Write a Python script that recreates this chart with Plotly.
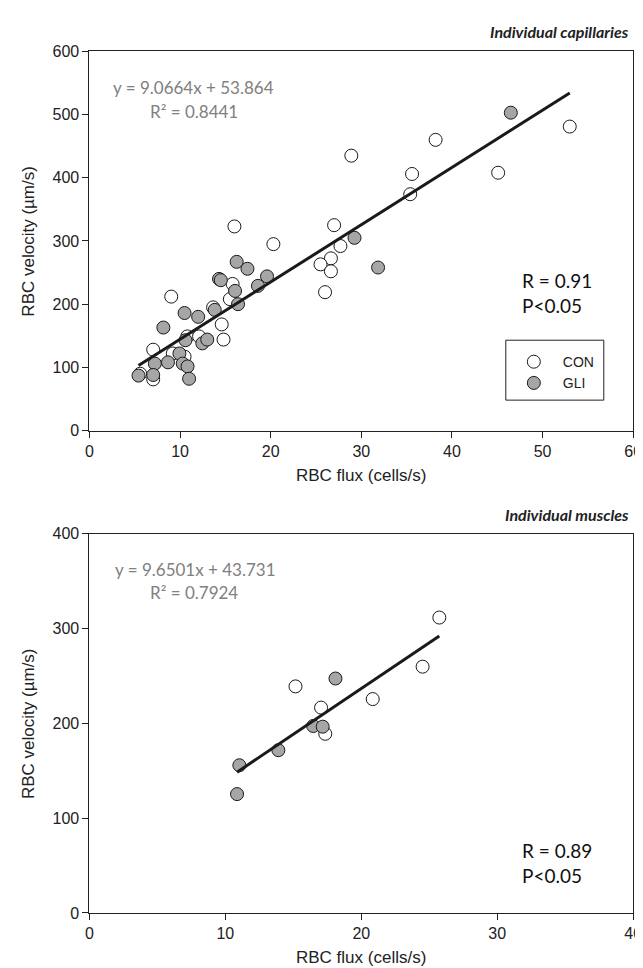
import plotly.graph_objects as go

W, H = 643, 968

# ---------------- data: individual capillaries (top) ----------------
cap_con_x = [53.0, 45.1, 38.2, 35.6, 35.4, 28.9, 27.0, 20.3, 27.7, 26.65, 25.5, 26.65, 26.0,
             16.0, 15.8, 15.5, 13.65, 9.03, 14.6, 14.8, 10.8, 12.1, 7.04, 9.2, 7.04, 5.6, 10.5]
cap_con_y = [481, 408, 460, 406, 374, 435, 325, 295, 292, 272.5, 263, 252, 219,
             323, 232, 208, 195, 212, 168, 144, 149, 149, 128, 122, 81, 90, 117]
cap_gli_x = [46.5, 31.85, 29.25, 19.6, 18.6, 16.25, 17.44, 14.3, 14.5, 16.07, 16.4, 13.83, 10.5,
             12.0, 8.16, 10.6, 12.46, 13.0, 9.93, 8.67, 7.22, 10.3, 10.83, 11.0, 7.04, 5.42]
cap_gli_y = [503, 258, 305, 244, 229, 267, 256, 240, 238, 221, 200, 191, 186,
             180, 163, 143, 138, 144, 122, 108, 106, 106, 101.5, 82, 88, 87]
cap_fit_x = [5.42, 53.0]
cap_fit_y = [103.0, 534.0]

# ---------------- data: individual muscles (bottom) ----------------
mus_con_x = [25.74, 24.51, 15.16, 20.84, 17.04, 17.35]
mus_con_y = [311.6, 259.8, 239.0, 225.6, 216.6, 189.0]
mus_gli_x = [18.1, 16.46, 17.16, 13.9, 11.03, 10.86]
mus_gli_y = [247.3, 197.2, 196.5, 171.7, 155.8, 125.4]
mus_fit_x = [10.86, 25.74]
mus_fit_y = [148.5, 292.1]

# tick values
cap_xticks = [0, 10, 20, 30, 40, 50, 60]
cap_yticks = [0, 100, 200, 300, 400, 500, 600]
mus_xticks = [0, 10, 20, 30, 40]
mus_yticks = [0, 100, 200, 300, 400]

# ---------------- styles ----------------
OPEN = dict(size=13, color='white', line=dict(color='#1a1a1a', width=1))
GREY = dict(size=13, color='#a6a6a6', line=dict(color='#1a1a1a', width=1))
LINE = dict(color='#1a1a1a', width=3)
SANS = 'Liberation Sans, Arial, sans-serif'
CAL = 'Lato, Open Sans, sans-serif'


def fx(px):
    return px / W


def fy(py):
    return 1 - py / H


fig = go.Figure()
fig.add_trace(go.Scatter(x=cap_con_x, y=cap_con_y, mode='markers', marker=OPEN, name='CON',
                         xaxis='x', yaxis='y'))
fig.add_trace(go.Scatter(x=cap_gli_x, y=cap_gli_y, mode='markers', marker=GREY, name='GLI',
                         xaxis='x', yaxis='y'))
fig.add_trace(go.Scatter(x=cap_fit_x, y=cap_fit_y, mode='lines', line=LINE, showlegend=False,
                         xaxis='x', yaxis='y'))
fig.add_trace(go.Scatter(x=mus_con_x, y=mus_con_y, mode='markers', marker=OPEN, showlegend=False,
                         xaxis='x2', yaxis='y2'))
fig.add_trace(go.Scatter(x=mus_gli_x, y=mus_gli_y, mode='markers', marker=GREY, showlegend=False,
                         xaxis='x2', yaxis='y2'))
fig.add_trace(go.Scatter(x=mus_fit_x, y=mus_fit_y, mode='lines', line=LINE, showlegend=False,
                         xaxis='x2', yaxis='y2'))

axis_common = dict(showline=True, linecolor='#222', linewidth=1, mirror=True,
                   ticks='outside', ticklen=6, tickcolor='#222', tickwidth=1,
                   showgrid=False, zeroline=False,
                   tickfont=dict(family=SANS, size=16, color='#222'))

L, R = 79, 634
fig.update_layout(
    width=W, height=H,
    margin=dict(l=0, r=0, t=0, b=0),
    paper_bgcolor='white', plot_bgcolor='white',
    xaxis=dict(domain=[fx(L), fx(R)], range=[0, 60], tickvals=cap_xticks, anchor='y', **axis_common),
    yaxis=dict(domain=[fy(422), fy(36)], range=[0, 600], tickvals=cap_yticks, anchor='x', **axis_common),
    xaxis2=dict(domain=[fx(L), fx(R)], range=[0, 40], tickvals=mus_xticks, anchor='y2', **axis_common),
    yaxis2=dict(domain=[fy(913), fy(527)], range=[0, 400], tickvals=mus_yticks, anchor='x2', **axis_common),
    showlegend=True,
    legend=dict(x=fx(503), y=fy(336), xanchor='left', yanchor='top',
                bgcolor='rgba(0,0,0,0)', borderwidth=0, itemwidth=48,
                font=dict(family=SANS, size=14, color='#222'), tracegroupgap=0),
)

# legend frame
fig.add_shape(type='rect', xref='paper', yref='paper',
              x0=fx(504), x1=fx(604), y0=fy(391), y1=fy(330),
              line=dict(color='#222', width=1))

ann = []


def text(px, py, s, size, color='#222', family=SANS, xanchor='center', angle=0):
    ann.append(dict(x=fx(px), y=fy(py), xref='paper', yref='paper', text=s, showarrow=False,
                    xanchor=xanchor, yanchor='middle', textangle=angle,
                    font=dict(family=family, size=size, color=color)))


# axis titles
text(17, 229, 'RBC velocity (µm/s)', 17, angle=-90)
text(17, 720, 'RBC velocity (µm/s)', 17, angle=-90)
text((L + R) / 2, 468, 'RBC flux (cells/s)', 17)
text((L + R) / 2, 958, 'RBC flux (cells/s)', 17)

# panel titles
text(632, 16, '<b><i>Individual capillaries</i></b>', 16, family=CAL, xanchor='right')
text(632, 507, '<b><i>Individual muscles</i></b>', 16, family=CAL, xanchor='right')

# regression equations
text(185, 73, 'y = 9.0664x + 53.864', 17, color='#808080', family=CAL)
text(186, 97, 'R² = 0.8441', 17, color='#808080', family=CAL)
text(187, 563, 'y = 9.6501x + 43.731', 17, color='#808080', family=CAL)
text(186, 587, 'R² = 0.7924', 17, color='#808080', family=CAL)

# statistics
text(518, 269, 'R = 0.91', 19, color='#111', family=CAL, xanchor='left')
text(518, 295, 'P<0.05', 19, color='#111', family=CAL, xanchor='left')
text(518, 849, 'R = 0.89', 19, color='#111', family=CAL, xanchor='left')
text(518, 875, 'P<0.05', 19, color='#111', family=CAL, xanchor='left')

fig.update_layout(annotations=ann)
fig.write_html('out.html')
